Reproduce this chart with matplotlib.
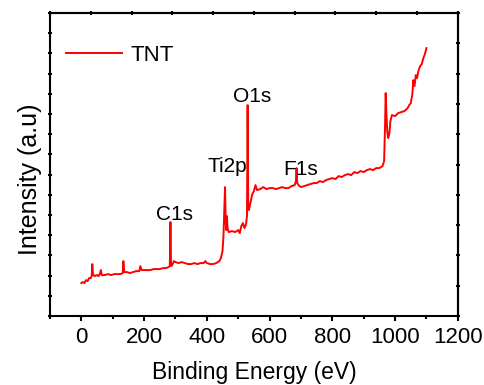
import numpy as np
import matplotlib
matplotlib.use("Agg")
import matplotlib.pyplot as plt
from matplotlib.ticker import MultipleLocator, NullFormatter

# survey spectrum (intensity in arbitrary units)
energy = [0, 5, 10, 15, 20, 25, 30, 33, 35, 37, 42, 50, 55, 60, 62, 65, 75, 85, 95,
          105, 115, 125, 132, 134, 137, 145, 155, 165, 175, 185, 188, 192, 200, 210,
          220, 230, 240, 250, 260, 270, 278, 282, 284, 286, 290, 295, 300, 310, 320,
          330, 340, 350, 360, 370, 380, 390, 395, 400, 410, 420, 430, 440, 445, 450,
          453, 455, 458, 460, 462, 464, 466, 470, 480, 490, 500, 505, 510, 515, 520,
          525, 528, 530, 532, 534, 538, 545, 550, 555, 560, 570, 580, 590, 600, 610,
          620, 630, 640, 650, 660, 670, 680, 684, 686, 688, 695, 700, 710, 720, 730,
          740, 750, 760, 770, 780, 790, 800, 810, 820, 830, 840, 850, 860, 870, 880,
          890, 900, 910, 920, 930, 940, 950, 960, 965, 968, 970, 972, 975, 978, 982,
          985, 990, 1000, 1010, 1020, 1030, 1040, 1045, 1050, 1055, 1058, 1062, 1066,
          1070, 1075, 1080, 1085, 1090, 1095, 1100]
intensity = [33, 34, 33, 36, 35, 38, 38, 40, 52, 42, 40, 41, 40, 43, 46, 41, 41, 42, 41,
             42, 42, 42, 43, 55, 44, 44, 43, 44, 45, 45, 50, 46, 46, 46,
             46, 47, 47, 47, 48, 48, 49, 50, 94, 50, 51, 55, 54, 53, 54,
             53, 52, 52, 53, 52, 53, 53, 55, 53, 52, 52, 53, 55, 58, 65,
             80, 100, 129, 95, 86, 100, 88, 84, 85, 84, 86, 83, 90, 93, 88,
             92, 100, 211, 110, 106, 112, 122, 125, 131, 126, 127, 129, 127, 128, 128,
             127, 128, 129, 128, 128, 130, 131, 135, 148, 133, 130, 129, 130, 131, 132,
             133, 133, 135, 134, 136, 137, 138, 137, 140, 139, 141, 142, 141, 144, 143,
             145, 144, 146, 147, 146, 148, 148, 150, 155, 190, 223, 205, 185, 178, 183,
             195, 201, 200, 203, 204, 205, 208, 211, 213, 222, 236, 230, 241,
             238, 246, 250, 252, 258, 262, 268]

peak_names = ["C1s", "Ti2p", "O1s", "F1s"]
peak_x = [297, 466, 544, 699]
peak_y = [96, 144, 214, 141]

plt.rcParams['font.family'] = ['Liberation Sans', 'DejaVu Sans']

fig = plt.figure(figsize=(4.85, 3.85), dpi=100)
ax = fig.add_axes([0.103, 0.179, 0.841, 0.787])

ax.plot(energy, intensity, color="#ff0000", lw=1.4, label="TNT")

for name, px, py in zip(peak_names, peak_x, peak_y):
    ax.text(px, py, name, fontsize=15, ha="center", va="baseline")

ax.set_xlim(-100, 1200)
ax.set_ylim(0, 303)
ax.set_xticks(range(0, 1201, 200))
ax.xaxis.set_minor_locator(MultipleLocator(100))
ax.set_yticks(np.linspace(0, 303, 16))
ax.yaxis.set_major_formatter(NullFormatter())
ax.tick_params(axis="x", which="major", direction="out", length=3.5, width=1.5,
               labelsize=16, pad=4, top=False)
ax.tick_params(axis="x", which="minor", direction="out", length=2, width=1.5, top=False)
ax.tick_params(axis="y", direction="inout", length=3, width=1.5, right=False)

for s in ax.spines.values():
    s.set_linewidth(1.5)

top = ax.secondary_xaxis("top")
top.set_xticks(np.linspace(-100, 1200, 11))
top.xaxis.set_major_formatter(NullFormatter())
top.tick_params(direction="inout", length=3, width=1.5)
top.spines["top"].set_linewidth(1.5)

right = ax.secondary_yaxis("right")
right.set_yticks(np.linspace(0, 303, 11))
right.yaxis.set_major_formatter(NullFormatter())
right.tick_params(direction="inout", length=3, width=1.5)
right.spines["right"].set_linewidth(1.5)

ax.set_xlabel("Binding Energy (eV)", fontsize=16.5, labelpad=10)
ax.set_ylabel("Intensity (a.u)", fontsize=18, labelpad=0.5, y=0.45)

ax.legend(loc="upper left", bbox_to_anchor=(0.04, 0.895), frameon=False, fontsize=16,
          handlelength=2.5, handletextpad=0.4, borderpad=0, borderaxespad=0)

fig.savefig("out.png", dpi=100)
